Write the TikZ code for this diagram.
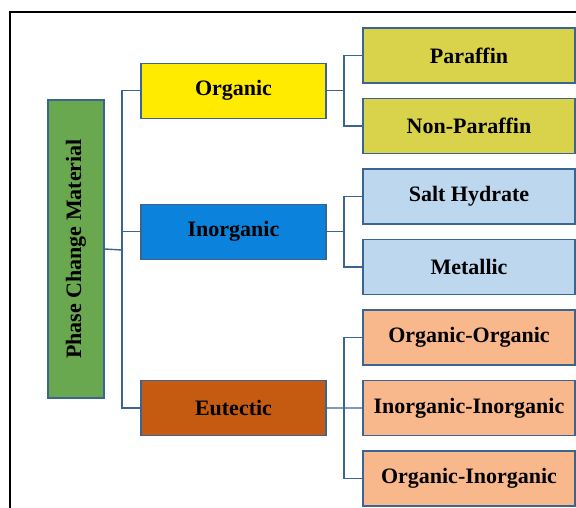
\documentclass[tikz,border=0pt]{standalone}
\usepackage{fontspec}
\setmainfont{Liberation Serif}
\usetikzlibrary{positioning}
\definecolor{pcmgreen}{HTML}{6AA84F}
\definecolor{orgyellow}{HTML}{FFEB00}
\definecolor{inorgblue}{HTML}{0B82DC}
\definecolor{eutbrown}{HTML}{C55A11}
\definecolor{leafolive}{HTML}{D9D34B}
\definecolor{leafblue}{HTML}{BDD7EE}
\definecolor{leafpeach}{HTML}{F8B88B}
\definecolor{edgeblue}{HTML}{3A6591}

\begin{document}
\begin{tikzpicture}[x=1pt, y=-1pt,
    box/.style={draw=edgeblue, line width=1.2pt, inner sep=0pt, text=black,
        font=\fontsize{22}{26}\selectfont\bfseries},
    mid/.style={box, minimum width=185pt, minimum height=55pt},
    leaf/.style={box, minimum width=212pt, minimum height=55pt},
    link/.style={edgeblue, line width=1.4pt}]
    \useasboundingbox (0,0) rectangle (576,508);

    % --- Frame ---
    \draw[line width=2.5pt] (10,508) -- (10,12) -- (576,12);

    % --- Root ---
    \node[box, fill=pcmgreen, minimum width=56pt, minimum height=298pt] (pcm) at (76,249)
        {\rotatebox{90}{Phase Change Material}};

    % --- Level 1 ---
    \node[mid, fill=orgyellow] (org) at (233.5,90.75) {Organic};
    \node[mid, fill=inorgblue] (inorg) at (233.5,231.75) {Inorganic};
    \node[mid, fill=eutbrown] (eut) at (233.5,408) {Eutectic};

    % --- Level 2 ---
    \node[leaf, fill=leafolive] (par) at (469,55.5) {Paraffin};
    \node[leaf, fill=leafolive, below=14.3pt of par] (npar) {Non-Paraffin};
    \node[leaf, fill=leafblue, below=14.3pt of npar] (salt) {Salt Hydrate};
    \node[leaf, fill=leafblue, below=14.3pt of salt] (met) {Metallic};
    \node[leaf, fill=leafpeach, below=14.3pt of met] (oo) {Organic-Organic};
    \node[leaf, fill=leafpeach, below=14.3pt of oo] (ii) {Inorganic-Inorganic};
    \node[leaf, fill=leafpeach, below=14.3pt of ii] (oi) {Organic-Inorganic};

    % junctions
    \coordinate (j0) at (122,250);
    \coordinate (j1) at (344,90.75);
    \coordinate (j2) at (344,231.75);
    \coordinate (j3) at (344,408);

    % --- Connectors ---
    \draw[link] (pcm.east) -- (j0);
    \draw[link] (org.west) -| (j0) |- (eut.west);
    \draw[link] (inorg.west) -- (inorg.west -| j0);

    \draw[link] (org.east) -- (j1);
    \draw[link] (par.west) -| (j1) |- (npar.west);
    \draw[link] (inorg.east) -- (j2);
    \draw[link] (salt.west) -| (j2) |- (met.west);
    \draw[link] (eut.east) -- (ii.west);
    \draw[link] (oo.west) -| (j3) |- (oi.west);
\end{tikzpicture}
\end{document}
